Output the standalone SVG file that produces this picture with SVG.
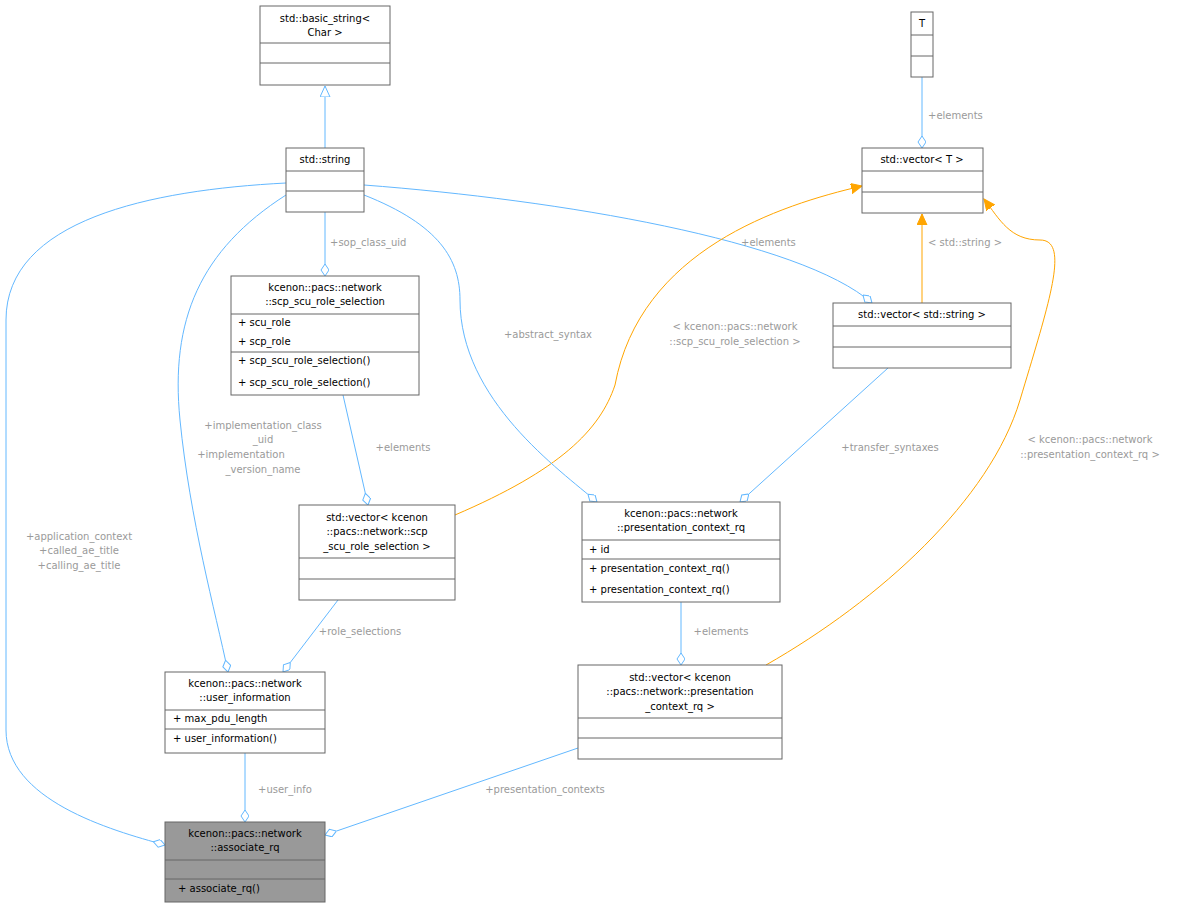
<svg xmlns="http://www.w3.org/2000/svg" width="1199" height="908" viewBox="0 0 1199 908">
<style>
.n rect{fill:#fff;stroke:#666;stroke-width:1}
.n line{stroke:#666;stroke-width:1}
.n text{font-family:"DejaVu Sans",sans-serif;font-size:10px;fill:#000}
.g rect{fill:#999}
.e path{fill:none;stroke:#63b8ff;stroke-width:1}
.e path.o{stroke:#ffa500}
.l text{font-family:"DejaVu Sans",sans-serif;font-size:10px;fill:#9a9a9a}
</style>
<defs>
<marker id="d" markerUnits="userSpaceOnUse" markerWidth="14" markerHeight="10" refX="12" refY="4" orient="auto"><path d="M0,4 L6,0 L12,4 L6,8 z" fill="#fff" stroke="#63b8ff"/></marker>
<marker id="t" markerUnits="userSpaceOnUse" markerWidth="14" markerHeight="12" refX="11" refY="5" orient="auto"><path d="M0,0 L11,5 L0,10 z" fill="#fff" stroke="#63b8ff"/></marker>
<marker id="a" markerUnits="userSpaceOnUse" markerWidth="14" markerHeight="12" refX="11" refY="5" orient="auto"><path d="M0,0 L11,5 L0,10 z" fill="#ffa500" stroke="#ffa500"/></marker>
</defs>
<g id="edges" class="e">
<path d="M325,148 L325,86" marker-end="url(#t)"/>
<path d="M922,77 L922,148" marker-end="url(#d)"/>
<path d="M325,212 L325,276" marker-end="url(#d)"/>
<path d="M364,185 C560,200 800,240 872,303" marker-end="url(#d)"/>
<path class="o" d="M922,303 L922,214" marker-end="url(#a)"/>
<path class="o" d="M455,515 C560,470 600,430 615,385 C640,250 780,205 862,186" marker-end="url(#a)"/>
<path class="o" d="M766,665 C880,600 990,500 1020,400 C1050,300 1070,240 1040,240 C1010,240 1000,220 984,199" marker-end="url(#a)"/>
<path d="M364,195 C440,225 460,260 460,300 C460,400 560,470 597,502" marker-end="url(#d)"/>
<path d="M888,368 L740,502" marker-end="url(#d)"/>
<path d="M343,395 L368,505" marker-end="url(#d)"/>
<path d="M338,600 L283,672" marker-end="url(#d)"/>
<path d="M286,195 C200,250 170,320 180,420 C190,520 215,610 228,672" marker-end="url(#d)"/>
<path d="M681,602 L681,665" marker-end="url(#d)"/>
<path d="M245,753 L245,822" marker-end="url(#d)"/>
<path d="M578,748 L325,835" marker-end="url(#d)"/>
<path d="M286,183 C150,190 6,220 6,320 L6,730 C6,800 110,830 165,845" marker-end="url(#d)"/>
</g>
<g class="l">
<text x="928" y="119">+elements</text>
<text x="330" y="246">+sop_class_uid</text>
<text x="741" y="246">+elements</text>
<text x="928" y="246">&lt; std::string &gt;</text>
<text x="735" y="330" text-anchor="middle">&lt; kcenon::pacs::network</text>
<text x="735" y="345" text-anchor="middle">::scp_scu_role_selection &gt;</text>
<text x="548" y="338" text-anchor="middle">+abstract_syntax</text>
<text x="1090" y="443" text-anchor="middle">&lt; kcenon::pacs::network</text>
<text x="1090" y="458" text-anchor="middle">::presentation_context_rq &gt;</text>
<text x="890" y="451" text-anchor="middle">+transfer_syntaxes</text>
<text x="403" y="451" text-anchor="middle">+elements</text>
<text x="263" y="429" text-anchor="middle">+implementation_class</text>
<text x="263" y="443" text-anchor="middle">_uid</text>
<text x="241" y="458" text-anchor="middle">+implementation</text>
<text x="263" y="473" text-anchor="middle">_version_name</text>
<text x="79" y="540" text-anchor="middle">+application_context</text>
<text x="79" y="554" text-anchor="middle">+called_ae_title</text>
<text x="79" y="569" text-anchor="middle">+calling_ae_title</text>
<text x="360" y="635" text-anchor="middle">+role_selections</text>
<text x="721" y="635" text-anchor="middle">+elements</text>
<text x="285" y="793" text-anchor="middle">+user_info</text>
<text x="545" y="793" text-anchor="middle">+presentation_contexts</text>
</g>
<g id="basic_string" class="n"><rect x="260" y="6" width="130" height="79"/><line x1="260" y1="43" x2="390" y2="43"/><line x1="260" y1="63" x2="390" y2="63"/><text x="325" y="22" text-anchor="middle">std::basic_string&lt;</text><text x="325" y="36" text-anchor="middle">Char &gt;</text></g>
<g id="T" class="n"><rect x="911" y="12" width="22" height="65"/><line x1="911" y1="35" x2="933" y2="35"/><line x1="911" y1="56" x2="933" y2="56"/><text x="922" y="27" text-anchor="middle">T</text></g>
<g id="string" class="n"><rect x="286" y="148" width="78" height="64"/><line x1="286" y1="171" x2="364" y2="171"/><line x1="286" y1="191" x2="364" y2="191"/><text x="325" y="163" text-anchor="middle">std::string</text></g>
<g id="vectorT" class="n"><rect x="862" y="148" width="121" height="65"/><line x1="862" y1="171" x2="983" y2="171"/><line x1="862" y1="192" x2="983" y2="192"/><text x="922" y="163" text-anchor="middle">std::vector&lt; T &gt;</text></g>
<g id="scp_scu_role_selection" class="n"><rect x="231" y="276" width="188" height="119"/><line x1="231" y1="314" x2="419" y2="314"/><line x1="231" y1="352" x2="419" y2="352"/><text x="325" y="291" text-anchor="middle">kcenon::pacs::network</text><text x="325" y="305" text-anchor="middle">::scp_scu_role_selection</text><text x="238" y="326">+  scu_role</text><text x="238" y="345">+  scp_role</text><text x="238" y="364">+  scp_scu_role_selection()</text><text x="238" y="386">+  scp_scu_role_selection()</text></g>
<g id="vector_string" class="n"><rect x="833" y="303" width="178" height="65"/><line x1="833" y1="326" x2="1011" y2="326"/><line x1="833" y1="347" x2="1011" y2="347"/><text x="922" y="318" text-anchor="middle">std::vector&lt; std::string &gt;</text></g>
<g id="vector_scp" class="n"><rect x="299" y="505" width="156" height="95"/><line x1="299" y1="558" x2="455" y2="558"/><line x1="299" y1="579" x2="455" y2="579"/><text x="377" y="521" text-anchor="middle">std::vector&lt; kcenon</text><text x="377" y="535" text-anchor="middle">::pacs::network::scp</text><text x="377" y="550" text-anchor="middle">_scu_role_selection &gt;</text></g>
<g id="presentation_context_rq" class="n"><rect x="582" y="502" width="198" height="100"/><line x1="582" y1="540" x2="780" y2="540"/><line x1="582" y1="559" x2="780" y2="559"/><text x="681" y="517" text-anchor="middle">kcenon::pacs::network</text><text x="681" y="531" text-anchor="middle">::presentation_context_rq</text><text x="589" y="553">+  id</text><text x="589" y="572">+  presentation_context_rq()</text><text x="589" y="593">+  presentation_context_rq()</text></g>
<g id="user_information" class="n"><rect x="165" y="672" width="160" height="81"/><line x1="165" y1="710" x2="325" y2="710"/><line x1="165" y1="729" x2="325" y2="729"/><text x="245" y="687" text-anchor="middle">kcenon::pacs::network</text><text x="245" y="701" text-anchor="middle">::user_information</text><text x="173" y="722">+  max_pdu_length</text><text x="173" y="742">+  user_information()</text></g>
<g id="vector_pcrq" class="n"><rect x="578" y="665" width="204" height="94"/><line x1="578" y1="718" x2="782" y2="718"/><line x1="578" y1="738" x2="782" y2="738"/><text x="680" y="681" text-anchor="middle">std::vector&lt; kcenon</text><text x="680" y="695" text-anchor="middle">::pacs::network::presentation</text><text x="680" y="710" text-anchor="middle">_context_rq &gt;</text></g>
<g id="associate_rq" class="n g"><rect x="165" y="822" width="160" height="80"/><line x1="165" y1="860" x2="325" y2="860"/><line x1="165" y1="879" x2="325" y2="879"/><text x="245" y="837" text-anchor="middle">kcenon::pacs::network</text><text x="245" y="851" text-anchor="middle">::associate_rq</text><text x="178" y="892">+    associate_rq()</text></g>
</svg>
